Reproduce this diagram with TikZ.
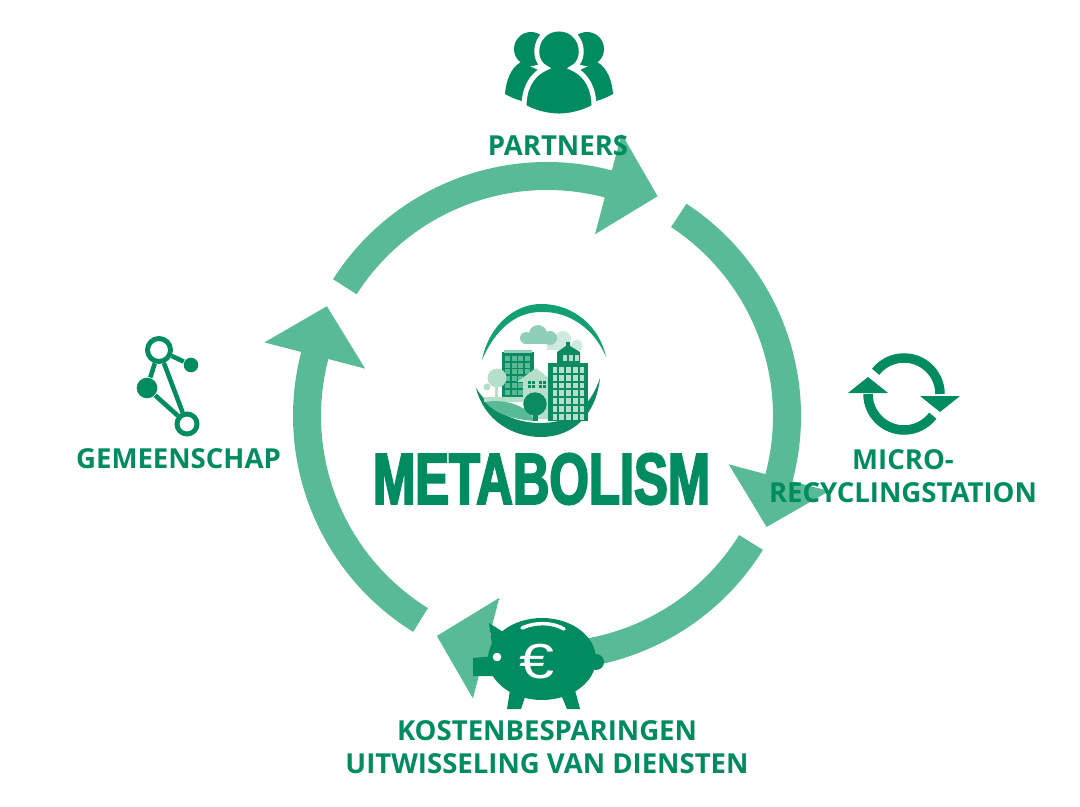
\documentclass[tikz,border=0pt]{standalone}
\usepackage{fontspec}
\setmainfont{Open Sans}
\newfontfamily\logofont[FakeStretch=0.7,FakeBold=2.6]{Liberation Sans}
\newfontfamily\eurofont[FakeStretch=1.28]{Liberation Sans}
\definecolor{metagreen}{HTML}{008C5F}
\definecolor{ringgreen}{HTML}{58BB96}
\definecolor{swoosh}{HTML}{12A073}
\definecolor{towergreen}{HTML}{0C8A62}
\definecolor{palegreen}{HTML}{B5DFCB}
\definecolor{cloudgreen}{HTML}{8FCFBA}
\definecolor{mistgreen}{HTML}{CFE9DC}
\tikzset{
    steplabel/.style={text=metagreen, align=center, font=\bfseries\fontsize{7.83}{9.4}\selectfont},
    netring/.style={circle, draw=metagreen, line width=1.4pt, inner sep=0pt, minimum size=#1},
    netdot/.style={circle, fill=metagreen, inner sep=0pt, minimum size=#1},
    netline/.style={metagreen, line width=1.3pt},
    cycleline/.style={metagreen, line width=2.7pt}
}
\begin{document}
\begin{tikzpicture}[x=0.01cm, y=-0.01cm]
    \useasboundingbox (0,0) rectangle (1080,807);
    \coordinate (hub) at (547,416);

    \foreach \from/\to in {-147.4/-75.2, -56.7/14.9, 31.8/104.7, -238.2/-165.4}
        \fill[ringgreen, shift={(hub)}] (\from:254) arc (\from:\to:254) -- (\to:292)
            -- ({\to+11.9}:246) -- (\to:188) -- (\to:226) arc (\to:\from:226) -- cycle;

    \foreach \side in {1,-1} {
        \begin{scope}[shift={(559,0)}, xscale=\side]
            \fill[metagreen] (-28,49) circle (17);
            \fill[metagreen] (-38,62) .. controls (-49,68) and (-53,82) .. (-54,94)
                .. controls (-47,98) and (-39,101) .. (-29,103) -- (0,80) -- cycle;
        \end{scope}
    }
    \filldraw[metagreen, draw=white, line width=1.4pt] (546,68) .. controls (530,60) and (535,29) .. (559,29)
        .. controls (583,29) and (588,60) .. (572,68) .. controls (588,75) and (594,90) .. (594,107)
        .. controls (583,113) and (570,116) .. (559,116) .. controls (548,116) and (535,113) .. (524,107)
        .. controls (524,90) and (530,75) .. (546,68) -- cycle;

    \node[netring=0.23cm] (topring) at (159,350) {};
    \node[netdot=0.146cm] (smalldot) at (191,365) {};
    \node[netdot=0.206cm] (bigdot) at (147,388) {};
    \node[netring=0.2cm] (lowring) at (187,424) {};
    \draw[netline] (topring) -- (smalldot);
    \draw[netline] (topring) -- (bigdot);
    \draw[netline] (topring) -- (lowring);
    \draw[netline] (bigdot) -- (lowring);

    \coordinate (cyclemid) at (904,394);
    \draw[cycleline] (cyclemid) ++(-142:36) arc (-142:0:36);
    \draw[cycleline] (cyclemid) ++(180:36) arc (180:37:36);
    \fill[metagreen] (920,396) -- (960,396) -- (940,412) -- cycle;
    \fill[metagreen] (848,393) -- (888,393) -- (868,377) -- cycle;

    \fill[swoosh] (482,360) .. controls (489,325) and (515,304) .. (541,304)
        .. controls (575,304) and (600,328) .. (606,357) .. controls (595,330) and (570,311) .. (541,312)
        .. controls (515,312) and (495,330) .. (482,360) -- cycle;
    \fill[towergreen] (476,388) .. controls (484,420) and (512,437) .. (541,437)
        .. controls (573,437) and (596,415) .. (600,378) .. controls (590,408) and (570,423) .. (541,423)
        .. controls (512,423) and (490,410) .. (476,388) -- cycle;

    \fill[mistgreen] (563,339) circle (8) (552,345) circle (5.5) (577,345) circle (5.5);
    \fill[mistgreen] (547,345) rectangle (582,350);
    \fill[cloudgreen] (538,334) circle (9) (526,338) circle (6) (550,338) circle (7);
    \fill[cloudgreen] (524,337) rectangle (552,344);

    \fill[towergreen] (502,352) rectangle (534,397);
    \fill[cloudgreen] (504,350) rectangle (532,353);
    \foreach \col in {0,1,2,3}
        \foreach \row in {0,1,2,3,4,5}
            \fill[ringgreen] ({505+6.5*\col},{356+6.7*\row}) rectangle ++(5,5);

    \fill[palegreen] (495,382) rectangle (498,397);
    \fill[palegreen] (497,378) circle (9.5) (487,387) circle (3.5);
    \fill[palegreen] (484,397) rectangle (523,402);
    \fill[ringgreen] (485,402) .. controls (505,399) and (520,404) .. (534,416) -- (534,421)
        .. controls (510,419) and (495,413) .. (485,402) -- cycle;

    \fill[palegreen] (517,382) -- (536,368) -- (551,380) -- (548,419) -- (534,419) -- (523,405) -- (523,382) -- cycle;
    \foreach \winx in {528,539}
        \foreach \dx in {0,4}
            \foreach \dy in {0,4}
                \fill[towergreen] ({\winx+\dx},{381+\dy}) rectangle ++(3,3);

    \fill[towergreen] (533,400) rectangle (538,421);
    \fill[towergreen] (535,404) circle (11.7);

    \fill[towergreen] (548,363) rectangle (588,421);
    \fill[towergreen] (557,363) -- (557,352) -- (566,346) -- (566,342) -- (570,342) -- (570,346) -- (580,352) -- (580,363) -- cycle;
    \foreach \col in {0,1,2}
        \fill[palegreen] ({562.5+6*\col},{355}) rectangle ++(4,6);
    \foreach \col in {0,1,2,3,4}
        \foreach \row in {0,1,2,3,4,5,6}
            \fill[palegreen] ({552.5+6.8*\col},{367+7.8*\row}) rectangle ++(4.6,5.8);

    \node[metagreen, font=\logofont\bfseries\fontsize{20.6}{21}\selectfont] (logotext) at (541.5,479) {METABOLISM};

    \node[steplabel] (partners) at (558,146) {PARTNERS};
    \node[steplabel] (community) at (178.5,459) {GEMEENSCHAP};
    \node[steplabel] (station) at (903,476.5) {MICRO-\\RECYCLINGSTATION};

    \fill[metagreen] (596,662) circle (8);
    \fill[metagreen] (489,623) -- (503,632) -- (492,645) -- cycle;
    \fill[metagreen] (542,659) ellipse (54 and 41);
    \fill[metagreen] (473,658) -- (495,656) -- (495,676) -- (473,676) -- cycle;
    \fill[metagreen] (510,690) -- (507,709) -- (521,709) -- (525,697) -- cycle;
    \fill[metagreen] (562,697) -- (567,709) -- (580,709) -- (575,690) -- cycle;
    \fill[white] (497,657) circle (4.3);
    \draw[white, line width=1pt, line cap=round] (522,628) .. controls (535,622) and (552,622) .. (564,629);
    \node[text=white, font=\eurofont\fontsize{14}{14}\selectfont, inner sep=0pt] (euro) at (537,662) {€};

    \node[steplabel] (savings) at (547,747.5) {KOSTENBESPARINGEN\\UITWISSELING VAN DIENSTEN};
\end{tikzpicture}
\end{document}
